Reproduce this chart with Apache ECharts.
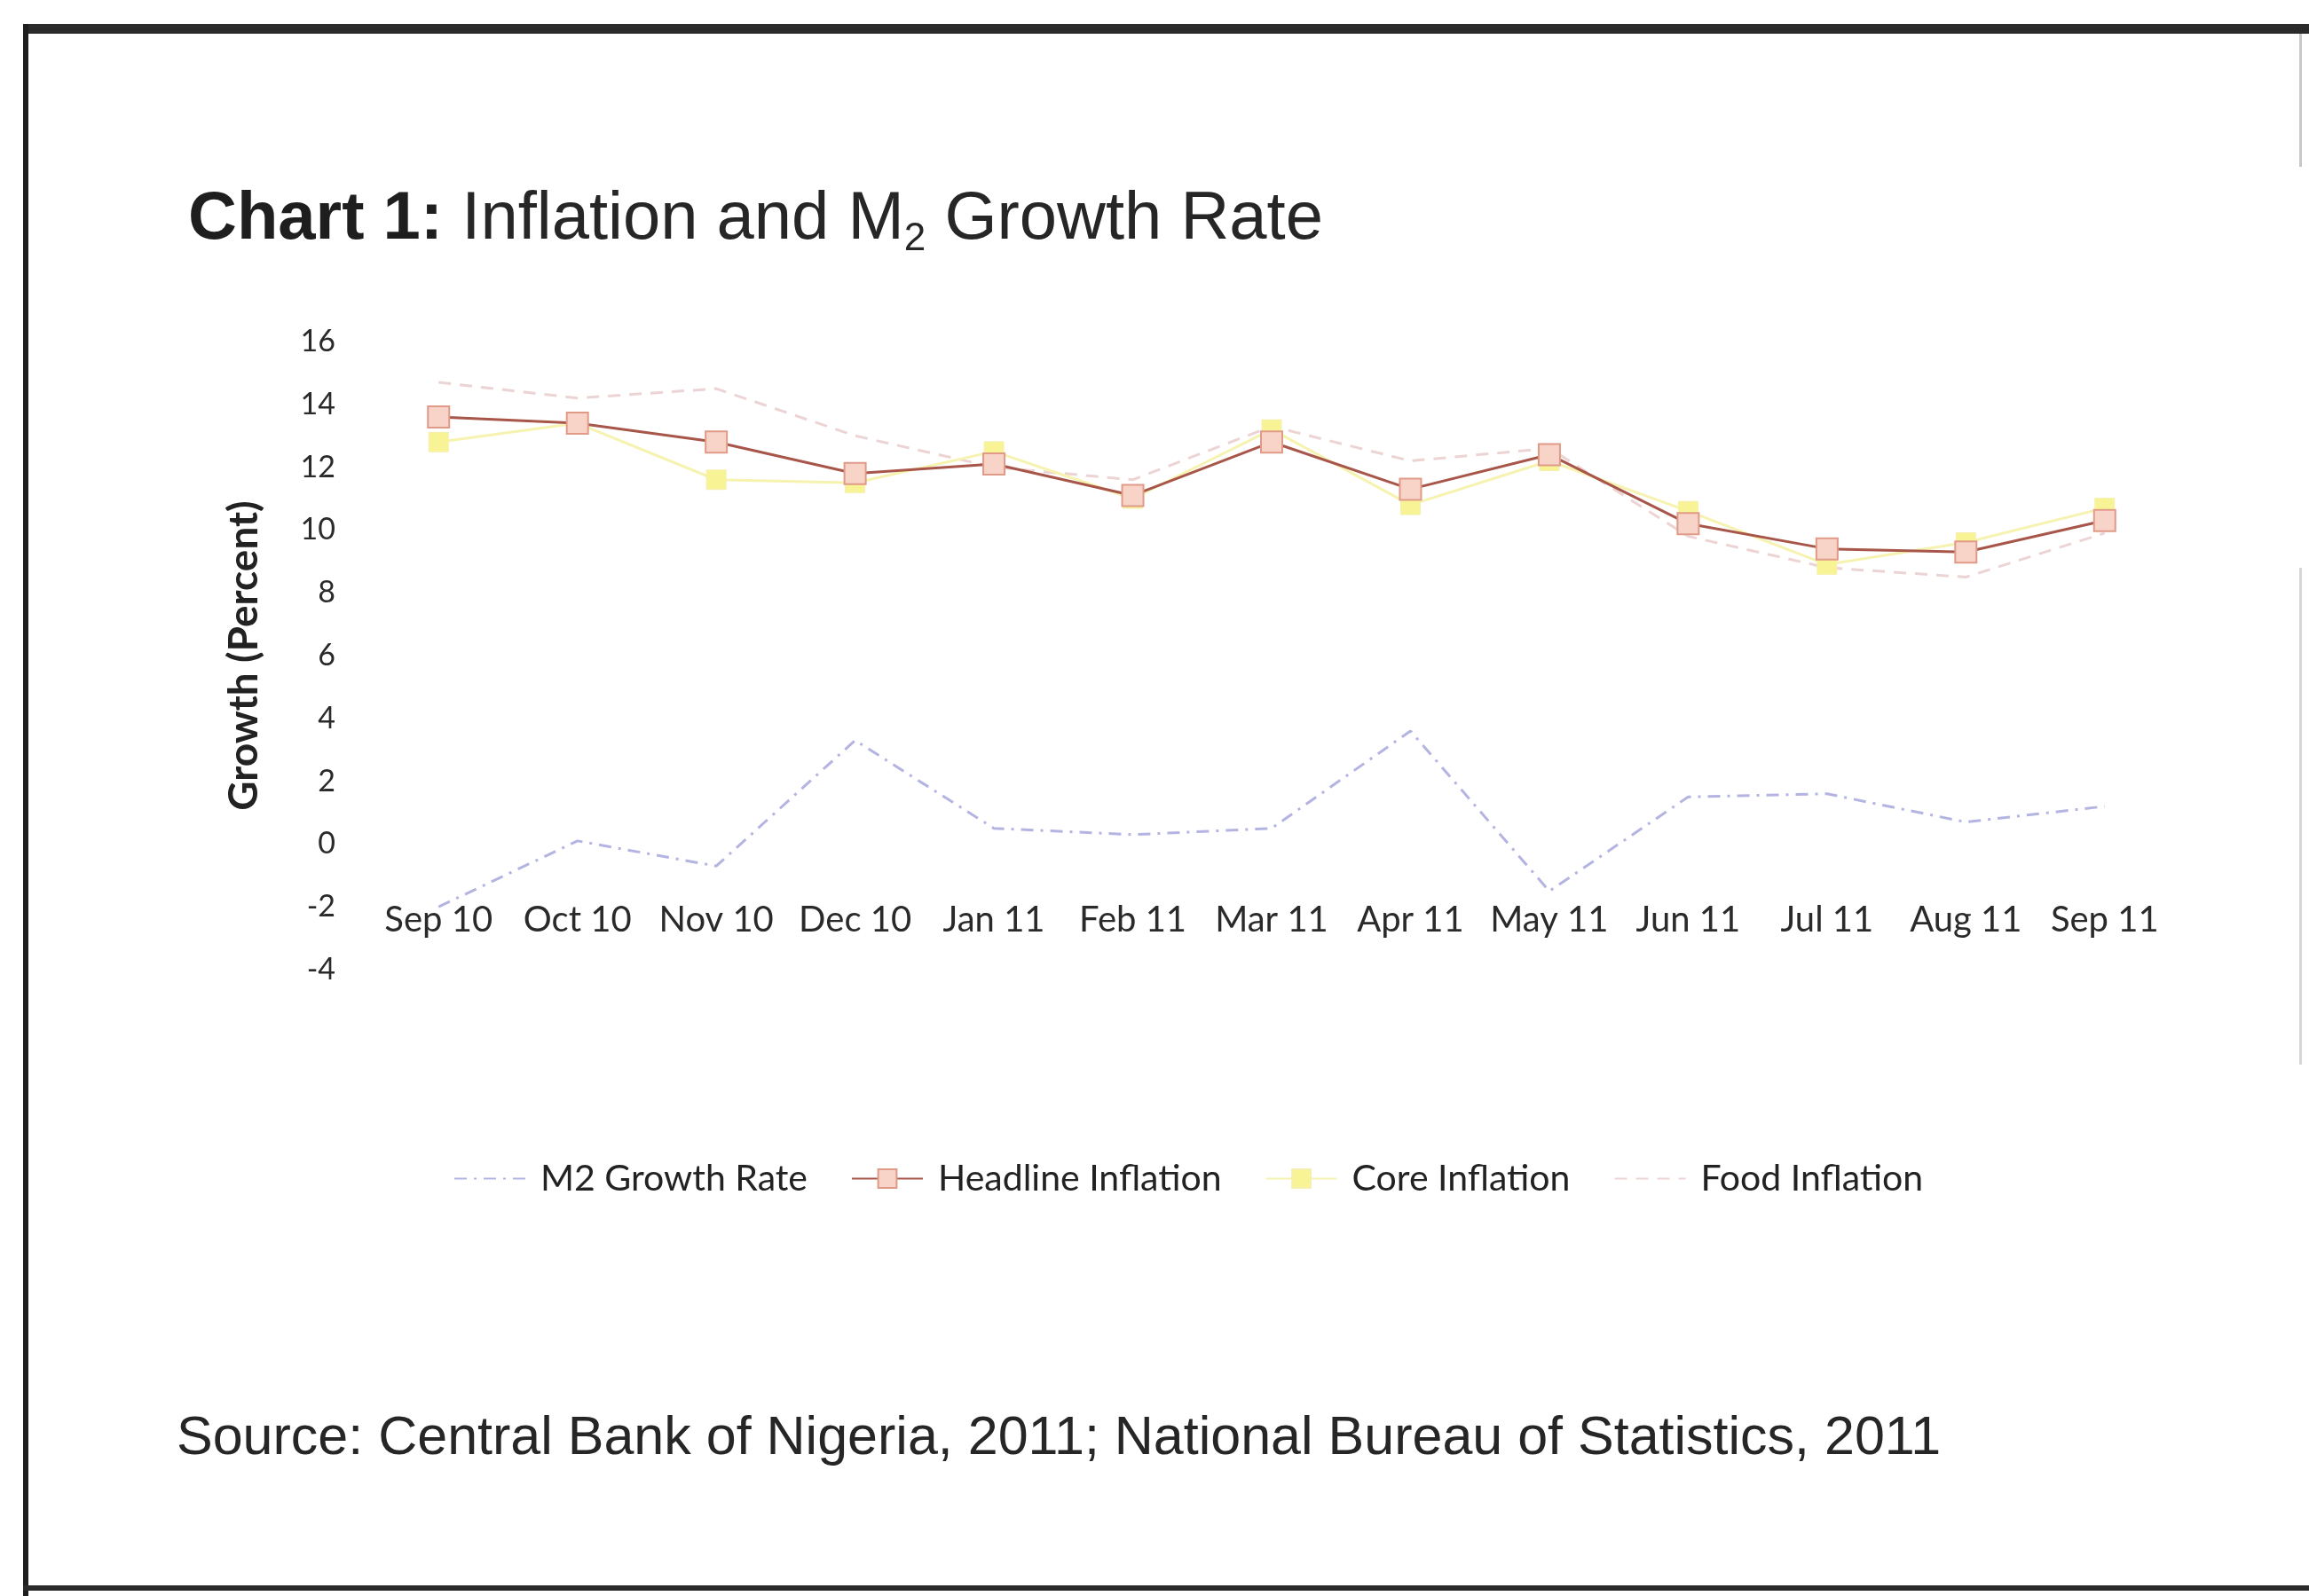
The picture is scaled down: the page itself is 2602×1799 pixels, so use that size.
<!DOCTYPE html>
<html>
<head>
<meta charset="utf-8">
<title>Inflation and M2 Growth Rate</title>
<script src="https://cdn.jsdelivr.net/npm/echarts@6.0.0/dist/echarts.min.js"></script>
<style>
  html, body { margin: 0; padding: 0; background: #ffffff; }
  #chart { width: 2602px; height: 1799px; }
</style>
</head>
<body>
<div id="chart"></div>
<script>
// Monthly categories (Sep 2010 – Sep 2011)
const months = ['Sep 10', 'Oct 10', 'Nov 10', 'Dec 10', 'Jan 11', 'Feb 11', 'Mar 11',
                'Apr 11', 'May 11', 'Jun 11', 'Jul 11', 'Aug 11', 'Sep 11'];

// Growth rates, percent
const m2Growth  = [-2.0, 0.1, -0.7, 3.3, 0.5, 0.3, 0.5, 3.6, -1.5, 1.5, 1.6, 0.7, 1.2];
const headline  = [13.6, 13.4, 12.8, 11.8, 12.1, 11.1, 12.8, 11.3, 12.4, 10.2, 9.4, 9.3, 10.3];
const coreInfl  = [12.8, 13.4, 11.6, 11.5, 12.5, 11.0, 13.2, 10.8, 12.2, 10.6, 8.9, 9.6, 10.7];
const foodInfl  = [14.7, 14.2, 14.5, 13.0, 12.0, 11.6, 13.3, 12.2, 12.6, 9.8, 8.8, 8.5, 9.9];

// Value axis ticks
const yMin = -4;
const yMax = 16;
const yStep = 2;

const labelFont = 'Lato, "Open Sans", sans-serif';
const docFont = '"Liberation Sans", Arial, sans-serif';

// Legend entries; the dashed series show a bare line, their marker is hidden
const legendItems = [
  { name: 'M2 Growth Rate', itemStyle: { opacity: 0 } },
  { name: 'Headline Inflation' },
  { name: 'Core Inflation' },
  { name: 'Food Inflation', itemStyle: { opacity: 0 } }
];

const chart = echarts.init(document.getElementById('chart'), null, { renderer: 'canvas' });

const option = {
  backgroundColor: '#ffffff',
  animation: false,
  title: {
    left: 207,
    top: 195,
    text: '{b|Chart 1:}{r| Inflation and M}{s|2}{r| Growth Rate}',
    textStyle: {
      rich: {
        b: { fontFamily: docFont, fontSize: 76, fontWeight: 'bold', color: '#1e1e1e', lineHeight: 96, verticalAlign: 'middle' },
        r: { fontFamily: docFont, fontSize: 76, fontWeight: 'normal', color: '#262626', lineHeight: 96, verticalAlign: 'middle' },
        // subscript: smaller glyph pushed down by top padding
        s: { fontFamily: docFont, fontSize: 44, fontWeight: 'normal', color: '#262626', lineHeight: 44, verticalAlign: 'middle', padding: [44, 0, 0, 0] }
      }
    }
  },
  legend: {
    data: legendItems,
    left: 506,
    top: 1303,
    itemWidth: 80,
    itemHeight: 26,
    itemGap: 49,
    textStyle: { fontFamily: labelFont, fontSize: 41, color: '#222', padding: [0, 0, 0, 12] }
  },
  grid: {
    left: 416,
    right: 152,
    top: 385,
    bottom: 706,
    containLabel: false
  },
  xAxis: {
    type: 'category',
    data: months,
    boundaryGap: true,
    axisLine: { show: false },
    axisTick: { show: false },
    splitLine: { show: false },
    axisLabel: {
      interval: 0,
      margin: -56,
      verticalAlign: 'middle',
      fontFamily: labelFont,
      fontSize: 40,
      color: '#2a2a2a'
    }
  },
  yAxis: {
    type: 'value',
    min: yMin,
    max: yMax,
    interval: yStep,
    name: 'Growth (Percent)',
    nameLocation: 'middle',
    nameGap: 118,
    nameTextStyle: { fontFamily: labelFont, fontSize: 46, fontWeight: 'bold', color: '#222' },
    axisLine: { show: false },
    axisTick: { show: false },
    splitLine: { show: false },
    axisLabel: { margin: 38, fontFamily: labelFont, fontSize: 34, color: '#2a2a2a' }
  },
  series: [
    {
      name: 'M2 Growth Rate',
      type: 'line',
      data: m2Growth,
      symbol: 'none',
      lineStyle: { color: '#b4b4e2', width: 3, type: [14, 8, 3, 8] },
      itemStyle: { color: '#b4b4e2' },
      z: 2
    },
    {
      name: 'Headline Inflation',
      type: 'line',
      data: headline,
      symbol: 'rect',
      symbolSize: 24,
      lineStyle: { color: '#a8564a', width: 3 },
      itemStyle: { color: '#f8d3c8', borderColor: '#e09a88', borderWidth: 2 },
      z: 4
    },
    {
      name: 'Core Inflation',
      type: 'line',
      data: coreInfl,
      symbol: 'rect',
      symbolSize: 22,
      lineStyle: { color: '#f6f3b0', width: 3 },
      itemStyle: { color: '#f8f496', borderColor: '#f5efb0', borderWidth: 1 },
      z: 3
    },
    {
      name: 'Food Inflation',
      type: 'line',
      data: foodInfl,
      symbol: 'none',
      lineStyle: { color: '#ecd4d4', width: 3, type: [14, 10] },
      itemStyle: { color: '#ecd4d4' },
      z: 2
    }
  ],
  graphic: [
    // page frame
    { type: 'rect', shape: { x: 26, y: 27, width: 2576, height: 11 }, style: { fill: '#2b2b2b' }, silent: true },
    { type: 'rect', shape: { x: 26, y: 27, width: 6, height: 1772 }, style: { fill: '#1f1f1f' }, silent: true },
    { type: 'rect', shape: { x: 26, y: 1787, width: 2576, height: 6 }, style: { fill: '#2a2a2a' }, silent: true },
    { type: 'rect', shape: { x: 2591, y: 38, width: 3, height: 150 }, style: { fill: '#c8c8c8' }, silent: true },
    { type: 'rect', shape: { x: 2591, y: 640, width: 3, height: 560 }, style: { fill: '#d6d6d6' }, silent: true },
    {
      type: 'text',
      left: 199,
      top: 1592,
      style: {
        text: 'Source: Central Bank of Nigeria, 2011; National Bureau of Statistics, 2011',
        font: '61px "Liberation Sans", Arial, sans-serif',
        fill: '#262626'
      },
      silent: true
    }
  ]
};

chart.setOption(option);
</script>
</body>
</html>
